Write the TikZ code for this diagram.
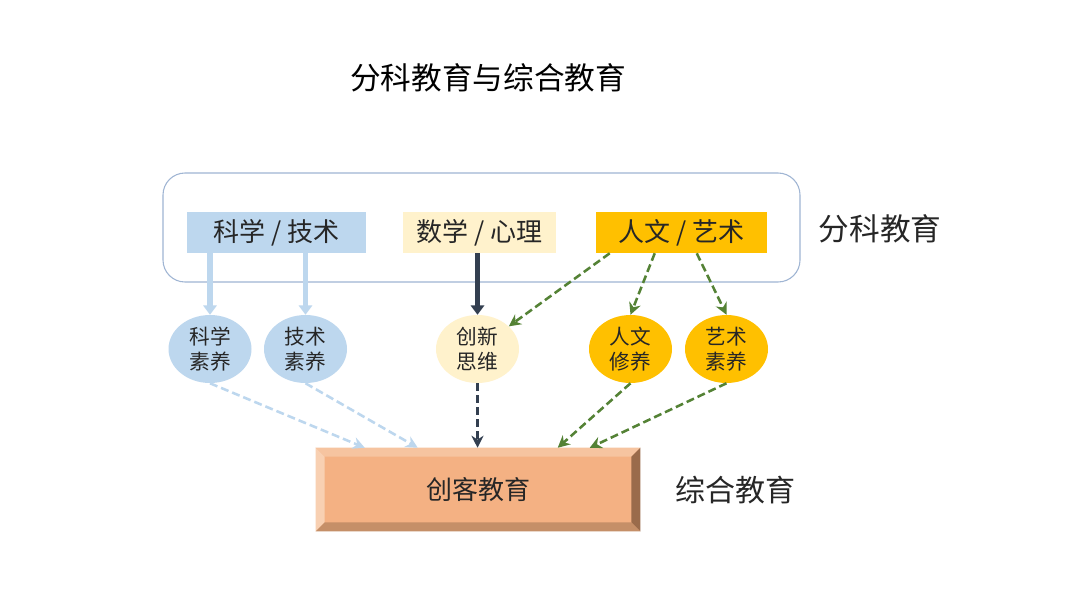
\documentclass[tikz,border=0pt]{standalone}
\usepackage{fontspec}
\setmainfont{Noto Sans CJK SC}
\usetikzlibrary{arrows.meta,calc,shapes.geometric}
\definecolor{lblue}{HTML}{BDD7EE}
\definecolor{lyellow}{HTML}{FFF2CC}
\definecolor{gold}{HTML}{FFC000}
\definecolor{agreen}{HTML}{548235}
\definecolor{navy}{HTML}{333F50}
\definecolor{face}{HTML}{F4B183}
\definecolor{bevtop}{HTML}{F6C4A0}
\definecolor{bevleft}{HTML}{F8D0B2}
\definecolor{bevright}{HTML}{9A6B4B}
\definecolor{bevbot}{HTML}{C58F68}
\definecolor{frameblue}{HTML}{9FB5D3}
\definecolor{txt}{HTML}{262626}
\tikzset{
  topbox/.style={inner sep=0pt, minimum height=30.75pt, text=txt, font=\fontsize{19.5}{22}\selectfont},
  ell/.style={ellipse, inner sep=0pt, minimum width=62.25pt, minimum height=51pt, align=center, text=txt, font=\fontsize{15.5}{19}\selectfont},
  bigarrow/.style={line width=3.8pt, -{Triangle[length=7pt,width=10pt]}},
  dasharrow/.style={line width=1.9pt, dash pattern=on 6pt off 3pt, -{Stealth[length=9pt,width=9pt]}},
  label/.style={text=txt, font=\fontsize{22.5}{26}\selectfont}
}
\begin{document}
\begin{tikzpicture}[x=0.75pt,y=-0.75pt]
\useasboundingbox (0,0) rectangle (1080,608);
\fill[white] (0,0) rectangle (1080,608);

% title
\node[text=black, font=\fontsize{23}{28}\selectfont] (title) at (488,78) {分科教育与综合教育};

% frame
\node[draw=frameblue, line width=0.8pt, rounded corners=16.5pt, minimum width=477.75pt, minimum height=81.75pt, inner sep=0pt] (frame) at (481.5,227.5) {};
\node[label, font=\fontsize{23}{28}\selectfont] (fenke) at (880,229) {分科教育};

% top boxes
\node[topbox, fill=lblue, minimum width=134.25pt] (b1) at (276.5,232.5) {科学 / 技术};
\node[topbox, fill=lyellow, minimum width=114.75pt] (b2) at (479.5,232.5) {数学 / 心理};
\node[topbox, fill=gold, minimum width=128.25pt] (b3) at (681.5,232.5) {人文 / 艺术};

% ellipses
\node[ell, fill=lblue] (c1) at (210,349) {科学\\素养};
\node[ell, fill=lblue] (c2) at (305.5,349) {技术\\素养};
\node[ell, fill=lyellow] (c3) at (477.5,349) {创新\\思维};
\node[ell, fill=gold] (c4) at (630.5,349) {人文\\修养};
\node[ell, fill=gold] (c5) at (726.5,349) {艺术\\素养};

% bottom bevel box
\node[fill=face, minimum width=243pt, minimum height=62.25pt, inner sep=0pt] (m) at (478,489.5) {};
\fill[bevtop] (m.north west) -- (m.north east) -- ($(m.north east)+(-9,9)$) -- ($(m.north west)+(9,9)$) -- cycle;
\fill[bevleft] (m.north west) -- ($(m.north west)+(9,9)$) -- ($(m.south west)+(9,-9)$) -- (m.south west) -- cycle;
\fill[bevright] (m.north east) -- ($(m.north east)+(-9,9)$) -- ($(m.south east)+(-9,-9)$) -- (m.south east) -- cycle;
\fill[bevbot] (m.south west) -- ($(m.south west)+(9,-9)$) -- ($(m.south east)+(-9,-9)$) -- (m.south east) -- cycle;
\node[text=txt, font=\fontsize{19.5}{24}\selectfont] (mt) at (m.center) {创客教育};
\node[label] (zonghe) at (735,490) {综合教育};

% arrows from top boxes
\draw[bigarrow, lblue] (c1 |- b1.south) -- (c1.north);
\draw[bigarrow, lblue] (c2 |- b1.south) -- (c2.north);
\draw[bigarrow, navy] (c3 |- b2.south) -- (c3.north);
\draw[dasharrow, agreen] ($(b3.south west)+(14,0)$) -- (c3);
\draw[dasharrow, agreen] ($(b3.south west)+(59,0)$) -- (c4.north);
\draw[dasharrow, agreen] ($(b3.south west)+(101,0)$) -- (c5.north);

% arrows to bottom box
\draw[dasharrow, lblue] (c1.south) -- ($(m.north west)+(49,0)$);
\draw[dasharrow, lblue] (c2.south) -- ($(m.north west)+(102,0)$);
\draw[dasharrow, navy] (c3.south) -- (c3 |- m.north);
\draw[dasharrow, agreen] (c4.south) -- ($(m.north west)+(242,0)$);
\draw[dasharrow, agreen] (c5.south) -- ($(m.north west)+(274,0)$);
\end{tikzpicture}
\end{document}
